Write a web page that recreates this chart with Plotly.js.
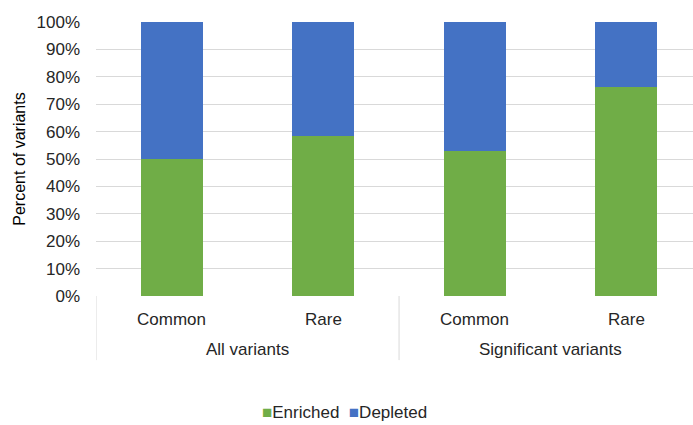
<!DOCTYPE html>
<html>
<head>
<meta charset="utf-8">
<script src="https://cdn.plot.ly/plotly-3.0.1.min.js"></script>
<style>html,body{margin:0;padding:0;background:#fff;}#chart{width:693px;height:425px;}</style>
</head>
<body>
<div id="chart"></div>
<script>
const groups = ["All variants", "All variants", "Significant variants", "Significant variants"];
const categories = ["Common", "Rare", "Common", "Rare"];
const enriched = [0.50, 0.584, 0.530, 0.763];
const depleted = enriched.map(v => 1 - v);
const tickVals = [0, 0.1, 0.2, 0.3, 0.4, 0.5, 0.6, 0.7, 0.8, 0.9, 1.0];
const tickText = ["0%", "10%", "20%", "30%", "40%", "50%", "60%", "70%", "80%", "90%", "100%"];
const seriesNames = ["Enriched", "Depleted"];
const seriesColors = ["#70ad47", "#4472c4"];

const FAM = "Liberation Sans, Arial, sans-serif";
const TXT = "#262626";
const xKeys = groups.map((g, i) => g + " | " + categories[i]);

const data = [
  {type: "bar", name: seriesNames[0], x: xKeys, y: enriched, marker: {color: seriesColors[0]}, width: 0.41},
  {type: "bar", name: seriesNames[1], x: xKeys, y: depleted, marker: {color: seriesColors[1]}, width: 0.41}
];

const annotations = [];
categories.forEach((c, i) => {
  annotations.push({x: i, xref: "x", y: -0.084, yref: "paper", text: c, showarrow: false,
    yanchor: "middle", xanchor: "center", font: {family: FAM, size: 17, color: TXT}});
});
const uniqueGroups = [...new Set(groups)];
const shapes = [];
const boundaries = [-0.5];
uniqueGroups.forEach(g => {
  const idx = groups.map((gg, i) => gg === g ? i : -1).filter(i => i >= 0);
  const mid = (idx[0] + idx[idx.length - 1]) / 2;
  annotations.push({x: mid, xref: "x", y: -0.197, yref: "paper", text: g, showarrow: false,
    yanchor: "middle", xanchor: "center", font: {family: FAM, size: 17, color: TXT}});
  boundaries.push(idx[idx.length - 1] + 0.5);
});
boundaries.forEach(b => {
  shapes.push({type: "line", xref: "x", yref: "paper", x0: b, x1: b, y0: 0, y1: -0.234,
    line: {color: "#d9d9d9", width: 1}});
});
annotations.push({xref: "paper", yref: "paper", x: 0.417, y: -0.425, xanchor: "center", yanchor: "middle", showarrow: false,
  text: seriesNames.map((n, i) => '<span style="color:' + seriesColors[i] + '">■</span>' + n).join("  "),
  font: {family: FAM, size: 17, color: TXT}});

const layout = {
  width: 693, height: 425,
  margin: {l: 96, r: 0, t: 22, b: 129},
  barmode: "stack",
  font: {family: FAM, size: 17, color: TXT},
  paper_bgcolor: "#fff", plot_bgcolor: "#fff",
  showlegend: false,
  xaxis: {type: "category", range: [-0.5, 3.44], showticklabels: false, ticks: "", showgrid: false, zeroline: false,
          showline: false, automargin: false},
  yaxis: {range: [0, 1], tickvals: tickVals, ticktext: tickText, showgrid: true, gridcolor: "#d9d9d9", gridwidth: 1,
          zeroline: false, ticks: "", ticklabelstandoff: 15, automargin: false,
          tickfont: {family: FAM, size: 17, color: TXT},
          title: {text: "Percent of variants", font: {family: FAM, size: 16, color: "#000"}, standoff: 6}},
  shapes: shapes,
  annotations: annotations
};
Plotly.newPlot("chart", data, layout, {displayModeBar: false, staticPlot: true});
</script>
</body>
</html>
